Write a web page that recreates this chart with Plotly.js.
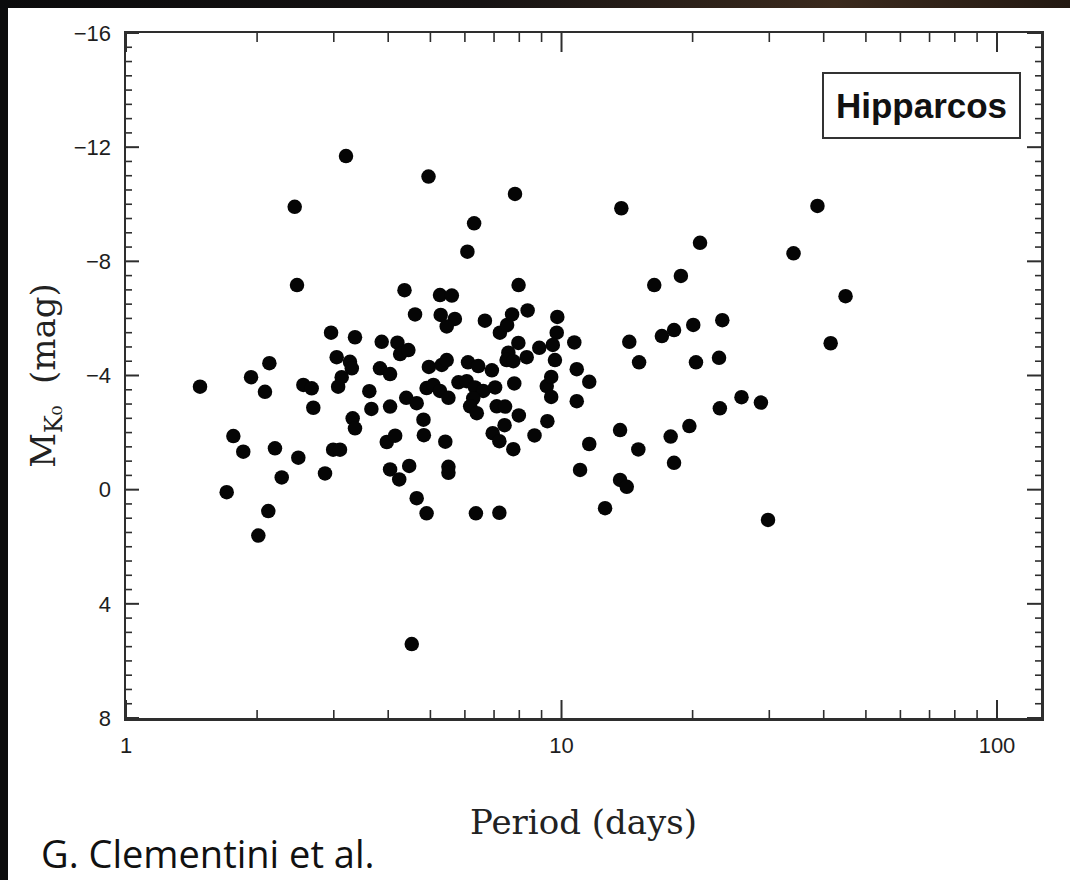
<!DOCTYPE html>
<html>
<head>
<meta charset="utf-8">
<script src="https://cdn.plot.ly/plotly-3.0.1.min.js"></script>
<style>
  html, body { margin: 0; padding: 0; }
  body { width: 1070px; height: 880px; background: #0c0c0d; position: relative; overflow: hidden; }
  #topstrip { position: absolute; left: 0; top: 0; width: 1070px; height: 8px; background: linear-gradient(90deg, #0b0b0c 0%, #161313 45%, #3b2a1d 78%, #231912 100%); }
  #chart { position: absolute; left: 8px; top: 8px; width: 1062px; height: 872px; background: #fff; }
</style>
</head>
<body>
<div id="topstrip"></div>
<div id="chart"></div>
<script>
// Period (days) of each star
const periods = [
  3.20, 2.44, 2.47, 4.95, 7.82, 6.30, 6.08, 13.72, 20.8, 4.36,
  5.26, 5.60, 7.97, 16.33, 18.8, 38.7, 34.1, 44.9, 23.4, 23.0,
  41.5, 23.1, 25.9, 28.7, 29.8,
  1.479, 1.937, 2.134, 2.085, 1.764, 1.859, 1.703, 2.198, 2.278, 2.122,
  2.013, 2.487, 2.864, 2.957, 3.356, 3.046, 3.268, 3.30, 3.128, 3.07,
  2.554, 2.669, 2.692, 3.315, 3.356, 2.99, 3.10,
  4.61, 5.28, 5.69, 5.45, 6.67, 7.22, 7.50, 7.70, 8.36, 9.78,
  9.75, 9.55, 9.66, 10.7, 14.31, 15.07, 17.0, 18.13, 20.07, 20.36,
  3.865, 4.20, 4.26, 4.45, 3.83, 4.04, 4.96, 5.31, 5.45, 6.10,
  6.44, 6.92, 7.96, 7.55, 7.48, 7.75, 8.32, 8.89, 3.62, 3.66,
  4.04, 4.40, 4.65, 4.90, 5.08, 5.26, 5.50, 5.80, 6.06, 6.33,
  6.61, 7.04, 6.27, 6.17, 6.39, 7.10, 7.42, 7.79, 7.98, 7.40,
  9.28, 9.25, 9.47, 9.47, 10.84, 11.58, 10.84, 8.67, 6.95, 7.20,
  7.75, 4.82, 4.83, 3.97, 4.15, 5.41, 4.04, 4.24, 4.47, 5.50,
  5.50, 4.65, 4.90, 6.36, 7.20, 11.58, 11.03, 12.59, 13.63, 15.01,
  13.63, 14.12, 17.81, 19.66, 18.13, 4.53
];
// Absolute K magnitude of each star
const magK = [
  -11.69, -9.91, -7.17, -10.97, -10.36, -9.33, -8.34, -9.86, -8.65, -6.99,
  -6.82, -6.80, -7.17, -7.17, -7.49, -9.94, -8.28, -6.78, -5.94, -4.62,
  -5.13, -2.85, -3.24, -3.05, 1.06,
  -3.61, -3.94, -4.43, -3.43, -1.88, -1.33, 0.09, -1.45, -0.43, 0.75,
  1.61, -1.12, -0.57, -5.50, -5.34, -4.64, -4.48, -4.25, -3.94, -3.61,
  -3.67, -3.55, -2.87, -2.50, -2.15, -1.40, -1.40,
  -6.14, -6.12, -5.98, -5.72, -5.92, -5.50, -5.77, -6.14, -6.28, -6.05,
  -5.50, -5.07, -4.54, -5.16, -5.18, -4.46, -5.38, -5.59, -5.77, -4.46,
  -5.18, -5.15, -4.75, -4.89, -4.25, -4.05, -4.30, -4.37, -4.54, -4.46,
  -4.33, -4.18, -5.14, -4.80, -4.54, -4.50, -4.64, -4.97, -3.45, -2.83,
  -2.91, -3.22, -3.03, -3.56, -3.67, -3.46, -3.22, -3.76, -3.80, -3.58,
  -3.46, -3.58, -3.20, -2.92, -2.68, -2.92, -2.91, -3.72, -2.60, -2.26,
  -2.40, -3.63, -3.95, -3.25, -4.22, -3.78, -3.10, -1.90, -1.98, -1.70,
  -1.42, -2.45, -1.91, -1.67, -1.89, -1.68, -0.71, -0.36, -0.83, -0.80,
  -0.59, 0.30, 0.83, 0.83, 0.81, -1.60, -0.69, 0.65, -2.09, -1.41,
  -0.34, -0.10, -1.86, -2.23, -0.94, 5.41
];

const xMajor = [1, 10, 100];
const xMajorText = ['1', '10', '100'];
const xMinor = [2, 3, 4, 5, 6, 7, 8, 9, 20, 30, 40, 50, 60, 70, 80, 90];
const yMajor = [-16, -12, -8, -4, 0, 4, 8];
const yMajorText = ['\u221216', '\u221212', '\u22128', '\u22124', '0', '4', '8'];
const yMinor = [];
for (let v = -16; v <= 8; v += 0.5) { if (v % 4 !== 0) yMinor.push(v); }

const axisColor = '#2e2e2e';
const tickFont = { family: 'Liberation Sans, Arial, sans-serif', size: 22, color: '#1e1e1e' };
const titleFont = { family: 'DejaVu Serif, Liberation Serif, serif', size: 34, color: '#222' };

// tick marks drawn as pixel-sized shapes anchored on the axes' own scales
function xTick(v, len, w, atTop) {
  return { type: 'line', layer: 'above', xref: 'x', yref: 'paper', ysizemode: 'pixel', yanchor: atTop ? 1 : 0,
    x0: v, x1: v, y0: 0, y1: atTop ? -len : len, line: { color: axisColor, width: w } };
}
function yTick(v, len, w, atRight) {
  return { type: 'line', layer: 'above', xref: 'paper', yref: 'y', xsizemode: 'pixel', xanchor: atRight ? 1 : 0,
    y0: v, y1: v, x0: 0, x1: atRight ? -len : len, line: { color: axisColor, width: w } };
}
const tickShapes = [];
xMajor.forEach(v => { tickShapes.push(xTick(v, 18, 2, false)); tickShapes.push(xTick(v, 19, 2, true)); });
xMinor.forEach(v => { tickShapes.push(xTick(v, 8, 1.6, false)); tickShapes.push(xTick(v, 9, 1.6, true)); });
yMajor.forEach(v => { tickShapes.push(yTick(v, 13, 2, false)); tickShapes.push(yTick(v, 14, 2, true)); });
yMinor.forEach(v => { tickShapes.push(yTick(v, 6, 1.6, false)); tickShapes.push(yTick(v, 6, 1.6, true)); });

const trace = {
  type: 'scatter',
  mode: 'markers',
  x: periods,
  y: magK,
  marker: { color: '#050505', size: 14.5, line: { width: 0 } },
  hoverinfo: 'x+y'
};

const layout = {
  width: 1062,
  height: 872,
  margin: { l: 118, r: 29, t: 25, b: 162 },
  showlegend: false,
  xaxis: {
    type: 'log',
    range: [0, 2.101],
    showgrid: false,
    zeroline: false,
    showline: true,
    linecolor: axisColor,
    linewidth: 2.5,
    mirror: true,
    ticks: '',
    tickmode: 'array',
    tickvals: xMajor,
    ticktext: xMajorText,
    tickfont: tickFont,
    ticklabelstandoff: 6,
    title: { text: 'Period (days)', font: titleFont, standoff: 54 }
  },
  yaxis: {
    range: [8, -16],
    showgrid: false,
    zeroline: false,
    showline: true,
    linecolor: axisColor,
    linewidth: 2.5,
    mirror: true,
    ticks: '',
    tickmode: 'array',
    tickvals: yMajor,
    ticktext: yMajorText,
    tickfont: tickFont,
    ticklabelstandoff: 8,
    title: { text: 'M<sub>K\u2080</sub>  (mag)', font: titleFont, standoff: 8 }
  },
  shapes: tickShapes,
  annotations: [
    {
      xref: 'paper', yref: 'paper', x: 0.8694, y: 0.8942,
      xanchor: 'center', yanchor: 'middle',
      text: '<b>Hipparcos</b>',
      showarrow: false,
      font: { family: 'Liberation Sans, Arial, sans-serif', size: 35, color: '#111' },
      bgcolor: '#ffffff',
      bordercolor: '#333',
      borderwidth: 2,
      borderpad: 2,
      width: 191,
      height: 59
    },
    {
      xref: 'paper', yref: 'paper',
      x: (40 - 126) / 915, y: (718 - 853) / 685,
      xanchor: 'left', yanchor: 'middle',
      text: 'G. Clementini et al.',
      showarrow: false,
      borderpad: 0,
      font: { family: 'Open Sans, Lato, sans-serif', size: 38, color: '#111' }
    }
  ]
};

Plotly.newPlot('chart', [trace], layout, { displayModeBar: false, staticPlot: true });
</script>
</body>
</html>
